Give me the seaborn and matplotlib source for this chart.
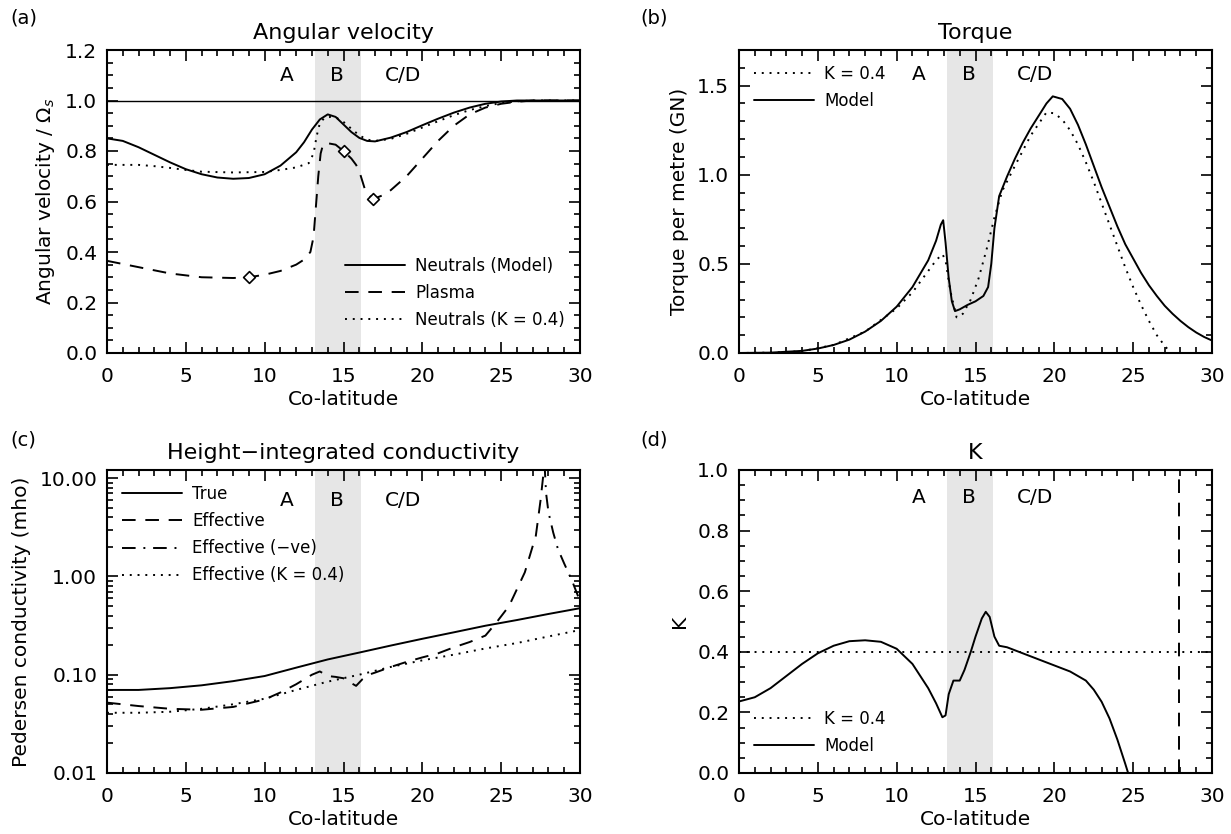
import numpy as np
import pandas as pd
import matplotlib
matplotlib.use("Agg")
import matplotlib.pyplot as plt
import seaborn as sns
from matplotlib.ticker import MultipleLocator, LogLocator, FixedLocator, NullFormatter

sns.set_style("ticks")
plt.rcParams['font.family'] = ['DejaVu Sans']
plt.rcParams['xtick.direction'] = 'in'
plt.rcParams['ytick.direction'] = 'in'
plt.rcParams['axes.linewidth'] = 1.5
for k in ['text.color', 'axes.labelcolor', 'xtick.color', 'ytick.color', 'axes.edgecolor']:
    plt.rcParams[k] = 'black'

# ---- data ----
# shaded region B and the zone labels
band = (13.2, 16.1)
zone_x = [11.4, 14.6, 18.8]
zone_txt = ['A', 'B', 'C/D']

# (a) angular velocity
av_model_x = [0, 1, 2, 3, 4, 5, 6, 7, 8, 9, 10, 11, 12, 12.5, 13, 13.5, 14, 14.5, 15, 15.5, 16, 16.5,
              17, 18, 19, 20, 21, 22, 23, 24, 25, 26, 27, 30]
av_model_y = [0.85, 0.84, 0.815, 0.785, 0.755, 0.728, 0.708, 0.695, 0.69, 0.693, 0.708, 0.742, 0.795,
              0.835, 0.885, 0.925, 0.945, 0.935, 0.905, 0.875, 0.852, 0.84, 0.838, 0.853, 0.875, 0.902,
              0.928, 0.952, 0.972, 0.987, 0.996, 1.0, 1.0, 1.0]
av_k04_x = [0, 2, 3, 4, 5, 6, 8, 10, 11, 12, 12.8, 13.1, 13.3, 13.5, 13.8, 14.2, 14.6, 15, 15.5, 16,
            16.5, 17, 18, 19, 20, 21, 22, 23, 24, 25, 26, 27, 30]
av_k04_y = [0.745, 0.745, 0.74, 0.733, 0.725, 0.718, 0.715, 0.717, 0.725, 0.735, 0.752, 0.79, 0.86,
            0.91, 0.932, 0.935, 0.93, 0.915, 0.888, 0.862, 0.845, 0.84, 0.848, 0.868, 0.893, 0.918,
            0.942, 0.962, 0.978, 0.99, 0.997, 1.0, 1.0]
av_plasma_x = [0, 2, 4, 6, 8, 9, 10, 11, 12, 12.5, 12.9, 13.1, 13.25, 13.4, 13.55, 13.7, 13.9, 14.5,
               15, 15.5, 15.8, 16.0, 16.2, 16.4, 16.6, 16.9, 17.5, 18, 19, 20, 21, 22, 23, 24, 25,
               26, 27, 30]
av_plasma_y = [0.365, 0.34, 0.315, 0.3, 0.297, 0.3, 0.31, 0.325, 0.35, 0.37, 0.40, 0.46, 0.58, 0.70,
               0.79, 0.825, 0.832, 0.825, 0.80, 0.77, 0.745, 0.72, 0.68, 0.64, 0.625, 0.61, 0.625,
               0.645, 0.70, 0.77, 0.84, 0.90, 0.945, 0.972, 0.987, 0.995, 1.0, 1.0]
diamond_x = [9, 15, 16.9]
diamond_y = [0.30, 0.80, 0.61]

# (b) torque
tq_model_x = [0, 2, 4, 5, 6, 7, 8, 9, 10, 11, 12, 12.5, 12.8, 12.95, 13.1, 13.3, 13.5, 13.7, 14,
              14.5, 15, 15.5, 15.8, 16.0, 16.2, 16.5, 17, 17.5, 18, 18.5, 19, 19.5, 19.9, 20.5, 21,
              21.5, 22, 22.5, 23, 23.5, 24, 24.5, 25, 25.5, 26, 26.5, 27, 27.5, 28, 28.5, 29, 29.5, 30]
tq_model_y = [0.0, 0.002, 0.012, 0.025, 0.045, 0.075, 0.12, 0.18, 0.26, 0.37, 0.52, 0.63, 0.72, 0.745,
              0.62, 0.42, 0.29, 0.235, 0.245, 0.27, 0.29, 0.32, 0.37, 0.50, 0.70, 0.88, 0.99, 1.09,
              1.18, 1.26, 1.33, 1.40, 1.44, 1.425, 1.37, 1.28, 1.17, 1.05, 0.93, 0.82, 0.71, 0.61,
              0.53, 0.45, 0.38, 0.32, 0.265, 0.22, 0.18, 0.145, 0.115, 0.09, 0.07]
tq_k04_x = [0, 2, 4, 6, 8, 10, 11, 12, 12.5, 12.9, 13.1, 13.4, 13.8, 14.2, 14.7, 15.2, 15.7, 16.2,
            16.7, 17.5, 18.5, 19.5, 20, 20.5, 21, 21.5, 22, 22.5, 23, 23.5, 24, 24.5, 25, 25.5, 26,
            26.5, 27, 27.4, 28]
tq_k04_y = [0.0, 0.002, 0.01, 0.045, 0.12, 0.25, 0.34, 0.46, 0.52, 0.555, 0.52, 0.35, 0.20, 0.22, 0.30,
            0.42, 0.58, 0.76, 0.91, 1.05, 1.22, 1.35, 1.345, 1.31, 1.25, 1.17, 1.07, 0.96, 0.84, 0.72,
            0.60, 0.48, 0.37, 0.27, 0.18, 0.10, 0.04, 0.0, -0.08]

# (c) height-integrated conductivity
sg_true_x = [0, 2, 4, 6, 8, 10, 12, 14, 16, 18, 20, 22, 24, 26, 28, 30]
sg_true_y = [0.070, 0.070, 0.073, 0.078, 0.086, 0.097, 0.118, 0.143, 0.168, 0.198, 0.232, 0.27,
             0.315, 0.36, 0.415, 0.475]
sg_eff_x = [0, 2, 4, 6, 8, 10, 11, 12, 13, 13.5, 14, 14.5, 15, 15.5, 15.8, 16.2, 16.6, 17, 18, 19,
            20, 21, 22, 23, 24, 24.7, 25.5, 26.5, 27.2, 27.5, 27.75]
sg_eff_y = [0.052, 0.048, 0.045, 0.044, 0.047, 0.056, 0.066, 0.08, 0.10, 0.108, 0.097, 0.095, 0.092,
            0.082, 0.077, 0.09, 0.10, 0.105, 0.12, 0.135, 0.15, 0.165, 0.19, 0.215, 0.25, 0.34, 0.5,
            1.1, 2.6, 6.0, 14.0]
sg_neg_x = [27.75, 27.85, 28.0, 28.3, 28.6, 29.0, 29.5, 30]
sg_neg_y = [14.0, 7.0, 4.5, 2.8, 1.9, 1.35, 0.9, 0.56]
sg_k04_x = [0, 2, 4, 6, 8, 10, 12, 14, 16, 18, 20, 22, 24, 26, 28, 30]
sg_k04_y = [0.041, 0.041, 0.042, 0.045, 0.05, 0.057, 0.07, 0.085, 0.1, 0.12, 0.14, 0.16, 0.185,
            0.21, 0.245, 0.285]

# (d) K
k_model_x = [0, 1, 2, 3, 4, 5, 6, 7, 8, 9, 10, 11, 12, 12.5, 12.9, 13.1, 13.3, 13.6, 14.0, 14.3,
             14.7, 15.0, 15.4, 15.65, 15.9, 16.2, 16.5, 17, 18, 19, 20, 21, 22, 22.5, 23, 23.5, 24,
             24.5, 24.8]
k_model_y = [0.236, 0.25, 0.28, 0.32, 0.36, 0.395, 0.42, 0.435, 0.438, 0.433, 0.41, 0.36, 0.28, 0.23,
             0.184, 0.19, 0.26, 0.305, 0.305, 0.34, 0.40, 0.45, 0.51, 0.532, 0.515, 0.45, 0.42,
             0.415, 0.395, 0.375, 0.355, 0.335, 0.305, 0.275, 0.235, 0.18, 0.11, 0.03, -0.02]
k_const = 0.4
k_singular = 27.9

# ---- styles ----
DOT = (0, (1, 3))
DASH = (0, (7, 5))
DASHDOT = (0, (7, 4, 1, 4))
LW = 1.4

fig = plt.figure(figsize=(12.31, 8.34), dpi=100)
W, H = 1231, 834


def add_ax(left, top, right, bottom):
    return fig.add_axes([left / W, 1 - bottom / H, (right - left) / W, (bottom - top) / H])


ax_a = add_ax(107, 50, 580, 353)
ax_b = add_ax(739, 50, 1212, 353)
ax_c = add_ax(107, 470, 580, 773)
ax_d = add_ax(739, 470, 1212, 773)


def line(ax, x, y, ls, label=None):
    sns.lineplot(x=x, y=y, ax=ax, color='black', lw=LW, linestyle=ls, label=label,
                 errorbar=None, sort=False)


def common(ax, title, ylabel, zone_y):
    ax.axvspan(*band, color='#e6e6e6', lw=0, zorder=0)
    ax.set_xlim(0, 30)
    ax.xaxis.set_major_locator(MultipleLocator(5))
    ax.xaxis.set_minor_locator(MultipleLocator(1))
    ax.tick_params(which='both', top=True, right=True, labelsize=14.5, width=1.2)
    ax.tick_params(which='major', length=8, pad=7)
    ax.tick_params(axis='x', which='major', pad=10)
    ax.tick_params(which='minor', length=4)
    ax.set_title(title, fontsize=16, pad=8)
    ax.set_xlabel('Co-latitude', fontsize=14.5, labelpad=3)
    ax.set_ylabel(ylabel, fontsize=14.5, labelpad=6)
    for x, t in zip(zone_x, zone_txt):
        ax.text(x, zone_y, t, fontsize=14.5, ha='center', va='center')


LEG = dict(frameon=False, fontsize=12, handlelength=3.6, labelspacing=0.55, handletextpad=0.6)

# (a)
common(ax_a, 'Angular velocity', r'Angular velocity / $\Omega_s$', 1.1)
ax_a.axhline(1.0, color='black', lw=1.0)
line(ax_a, av_model_x, av_model_y, '-', 'Neutrals (Model)')
line(ax_a, av_plasma_x, av_plasma_y, DASH, 'Plasma')
line(ax_a, av_k04_x, av_k04_y, DOT, 'Neutrals (K = 0.4)')
sns.scatterplot(x=diamond_x, y=diamond_y, ax=ax_a, marker='D', s=36, facecolor='white',
                edgecolor='black', linewidth=1.2, zorder=5)
ax_a.set_ylim(0, 1.2)
ax_a.yaxis.set_major_locator(MultipleLocator(0.2))
ax_a.yaxis.set_minor_locator(MultipleLocator(0.05))
ax_a.yaxis.set_major_formatter('{x:.1f}')
ax_a.legend(loc='lower right', bbox_to_anchor=(1.0, 0.03), **LEG)

# (b)
common(ax_b, 'Torque', 'Torque per metre (GN)', 1.56)
line(ax_b, tq_k04_x, tq_k04_y, DOT, 'K = 0.4')
line(ax_b, tq_model_x, tq_model_y, '-', 'Model')
ax_b.set_ylim(0, 1.7)
ax_b.yaxis.set_major_locator(MultipleLocator(0.5))
ax_b.yaxis.set_minor_locator(MultipleLocator(0.1))
ax_b.yaxis.set_major_formatter('{x:.1f}')
ax_b.legend(loc='upper left', bbox_to_anchor=(0.0, 1.0), **LEG)

# (c)
common(ax_c, 'Height\u2212integrated conductivity', 'Pedersen conductivity (mho)', 5.9)
line(ax_c, sg_true_x, sg_true_y, '-', 'True')
line(ax_c, sg_eff_x, sg_eff_y, DASH, 'Effective')
line(ax_c, sg_neg_x, sg_neg_y, DASHDOT, 'Effective (\u2212ve)')
line(ax_c, sg_k04_x, sg_k04_y, DOT, 'Effective (K = 0.4)')
ax_c.set_yscale('log')
ax_c.set_ylim(0.01, 12.1)
ax_c.yaxis.set_major_locator(FixedLocator([0.01, 0.1, 1, 10]))
ax_c.yaxis.set_major_formatter('{x:.2f}')
ax_c.yaxis.set_minor_locator(LogLocator(base=10, subs=np.arange(2, 10)))
ax_c.yaxis.set_minor_formatter(NullFormatter())
ax_c.legend(loc='upper left', bbox_to_anchor=(0.0, 1.0), **LEG)

# (d)
common(ax_d, 'K', 'K', 0.91)
ax_d.axhline(k_const, color='black', lw=LW, linestyle=DOT, label='K = 0.4')
line(ax_d, k_model_x, k_model_y, '-', 'Model')
ax_d.axvline(k_singular, color='black', lw=LW, linestyle=DASH)
ax_d.set_ylim(0, 1.0)
ax_d.yaxis.set_major_locator(MultipleLocator(0.2))
ax_d.yaxis.set_minor_locator(MultipleLocator(0.05))
ax_d.yaxis.set_major_formatter('{x:.1f}')
ax_d.legend(loc='lower left', bbox_to_anchor=(0.0, 0.01), **LEG)

# panel letters
for x, y, t in [(10, 18, '(a)'), (640, 18, '(b)'), (10, 440, '(c)'), (640, 440, '(d)')]:
    fig.text(x / W, 1 - y / H, t, fontsize=14, ha='left', va='center')

fig.savefig('out.png', dpi=100)
